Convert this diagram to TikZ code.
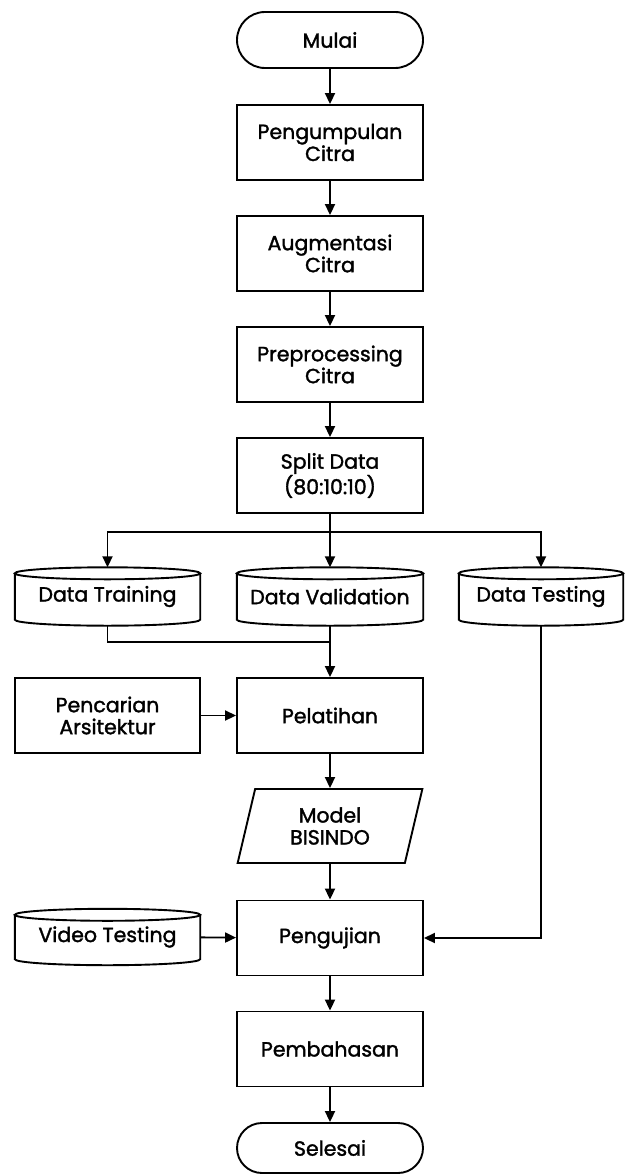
\documentclass[tikz,border=0pt]{standalone}
\usepackage{fontspec}
\setmainfont{Poppins}[FakeBold=1.6,AutoFakeBold=1.6]
\usetikzlibrary{arrows.meta,shapes.misc,shapes.geometric,calc}
\tikzset{
  ln/.style={line width=1.9pt},
  arr/.style={ln,-{Triangle[length=11pt,width=10pt]}},
  txt/.style={font=\fontsize{20.5}{22}\selectfont\bfseries, align=center, inner sep=0pt},
  boxnode/.style={txt, draw, ln, minimum width=186pt, minimum height=75pt},
  termnode/.style={txt, draw, ln, rounded rectangle, minimum width=186pt, minimum height=56pt},
  cylnode/.style={txt, minimum height=58pt},
  parnode/.style={txt, draw, ln, trapezium, trapezium left angle=76, trapezium right angle=104, trapezium stretches=true, minimum width=186pt, minimum height=74pt}
}
\newcommand\cylout[1]{%
  \draw[ln] let \p1=(#1.north west), \p2=(#1.north east), \n1={(\x2-\x1)/2} in
    ([yshift=-6pt]#1.north west) -- ([yshift=6pt]#1.south west)
    arc[start angle=180, end angle=360, x radius=\n1, y radius=6pt]
    -- ([yshift=-6pt]#1.north east)
    ([yshift=-6pt]#1.north) ellipse[x radius=\n1, y radius=6pt];}
\begin{document}
\begin{tikzpicture}[x=1pt,y=-1pt]
\useasboundingbox (0,0) rectangle (634,1174);
\fill[white] (0,0) rectangle (634,1174);
\node[termnode] (mulai) at (330,40) {Mulai};
\node[boxnode] (kumpul) at (330,142.5) {Pengumpulan\\Citra};
\node[boxnode] (augm) at (330,253.5) {Augmentasi\\Citra};
\node[boxnode] (prep) at (330,364.5) {Preprocessing\\Citra};
\node[boxnode] (split) at (330,475.5) {Split Data\\(80:10:10)};
\coordinate (jn) at (330,532);
\node[cylnode, minimum width=185pt] (train) at (107.5,596.5) {Data Training};
\node[cylnode, minimum width=186pt] (valid) at (330,596.5) {Data Validation};
\node[cylnode, minimum width=164pt] (test) at (541,596.5) {Data Testing};
\cylout{train}\cylout{valid}\cylout{test}
\coordinate (jm) at (330,642);
\node[boxnode, minimum width=185pt] (cari) at (107.5,715.5) {Pencarian\\Arsitektur};
\node[boxnode] (latih) at (330,715.5) {Pelatihan};
\node[parnode] (model) at (330,826) {Model\\BISINDO};
\node[boxnode] (uji) at (330,938) {Pengujian};
\node[cylnode, minimum width=185pt, minimum height=56pt] (video) at (107.5,937) {Video Testing};
\cylout{video}
\node[boxnode] (bahas) at (330,1049) {Pembahasan};
\node[termnode, minimum height=50pt] (selesai) at (330,1148) {Selesai};
\draw[arr] (mulai) -- (kumpul);
\draw[arr] (kumpul) -- (augm);
\draw[arr] (augm) -- (prep);
\draw[arr] (prep) -- (split);
\draw[ln] (split.south) -- (jn);
\draw[arr] (jn) -| (train.north);
\draw[arr] (jn) -| (test.north);
\draw[arr] (jn) -- (valid.north);
\draw[ln] (train.south) |- (jm);
\draw[arr] (valid.south) -- (latih.north);
\draw[arr] (cari) -- (latih);
\draw[arr] (latih) -- (model);
\draw[arr] (model) -- (uji);
\draw[arr] (video) -- (uji);
\draw[arr] (test.south) |- (uji.east);
\draw[arr] (uji) -- (bahas);
\draw[arr] (bahas) -- (selesai);
\end{tikzpicture}
\end{document}
